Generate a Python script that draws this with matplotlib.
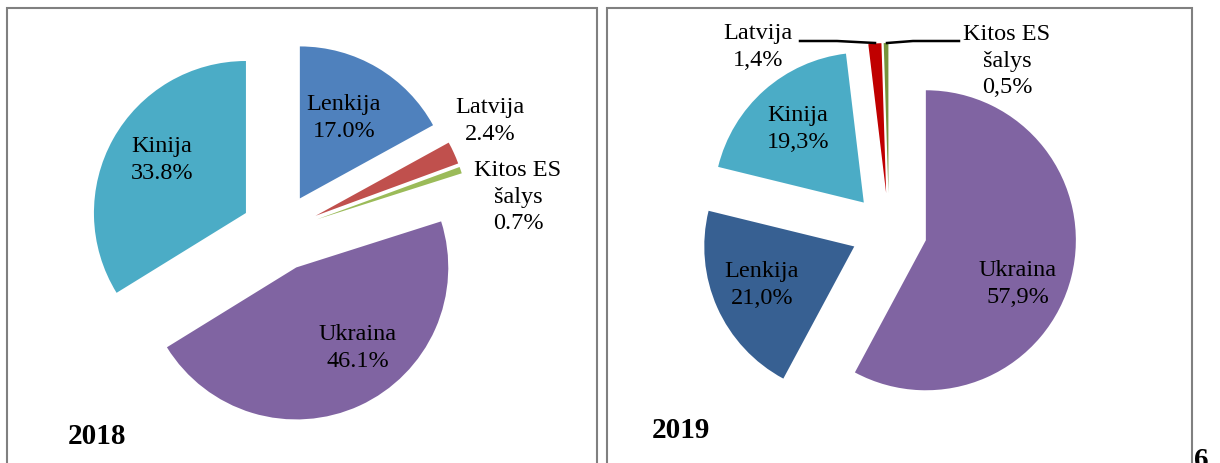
import matplotlib.pyplot as plt
from matplotlib.patches import Rectangle

plt.rcParams['font.family'] = ['Liberation Serif', 'DejaVu Serif']

W, H = 1220, 463

# 2018 shares, clockwise from the top
countries_2018 = ["Lenkija", "Latvija", "Kitos ES\nšalys", "Ukraina", "Kinija"]
shares_2018 = [17.0, 2.4, 0.7, 46.1, 33.8]
colors_2018 = ["#4F81BD", "#C0504D", "#9BBB59", "#8064A2", "#4BACC6"]

# 2019 shares, clockwise from the top
countries_2019 = ["Ukraina", "Lenkija", "Kinija", "Latvija", "Kitos ES\nšalys"]
shares_2019 = [57.9, 21.0, 19.3, 1.4, 0.5]
colors_2019 = ["#8064A2", "#376092", "#4BACC6", "#C00000", "#77933C"]

years = ["2018", "2019"]


def Y(v):
    # image row -> data y
    return H - v


fig = plt.figure(figsize=(W / 100, H / 100), dpi=100)
ax = fig.add_axes([0, 0, 1, 1])

# panel frames
for x0, x1 in [(7, 597), (607, 1192)]:
    ax.add_patch(Rectangle((x0, Y(480)), x1 - x0, 472, fill=False,
                           edgecolor="#808080", lw=1.5))

ax.pie(shares_2018, colors=colors_2018, startangle=90, counterclock=False,
       explode=[39] * 5, radius=152, center=(280, Y(232)),
       wedgeprops=dict(linewidth=0))
ax.pie(shares_2019, colors=colors_2019, startangle=90, counterclock=False,
       explode=[38] * 5, radius=150, center=(889, Y(231)),
       wedgeprops=dict(linewidth=0))

pos_2018 = [(344, 118), (490, 121), (518, 197), (358, 348), (162, 160)]
pos_2019 = [(1018, 284), (762, 285), (798, 129), (758, 47), (1007, 61)]

for name, val, (px, py) in zip(countries_2018, shares_2018, pos_2018):
    ax.text(px, Y(py), f"{name}\n{val:.1f}%", ha="center", va="center",
            fontsize=17.5, linespacing=1.32)
for name, val, (px, py) in zip(countries_2019, shares_2019, pos_2019):
    ax.text(px, Y(py), f"{name}\n{val:.1f}%".replace(".", ","), ha="center",
            va="center", fontsize=17.5, linespacing=1.32)

# leader lines for the thin 2019 slices
ax.plot([800, 837, 875], [Y(41), Y(41), Y(43)], color="black", lw=1.8)
ax.plot([887, 913, 959], [Y(43), Y(41), Y(41)], color="black", lw=1.8)

ax.text(68, Y(436), years[0], ha="left", va="center", fontsize=21,
        fontweight="bold")
ax.text(652, Y(431), years[1], ha="left", va="center", fontsize=21,
        fontweight="bold")
ax.text(1194, Y(447), "6", ha="left", va="top", fontsize=21,
        fontweight="bold")

ax.set_xlim(0, W)
ax.set_ylim(0, H)
ax.set_aspect("auto")
ax.axis("off")

fig.savefig("out.png", dpi=100)
